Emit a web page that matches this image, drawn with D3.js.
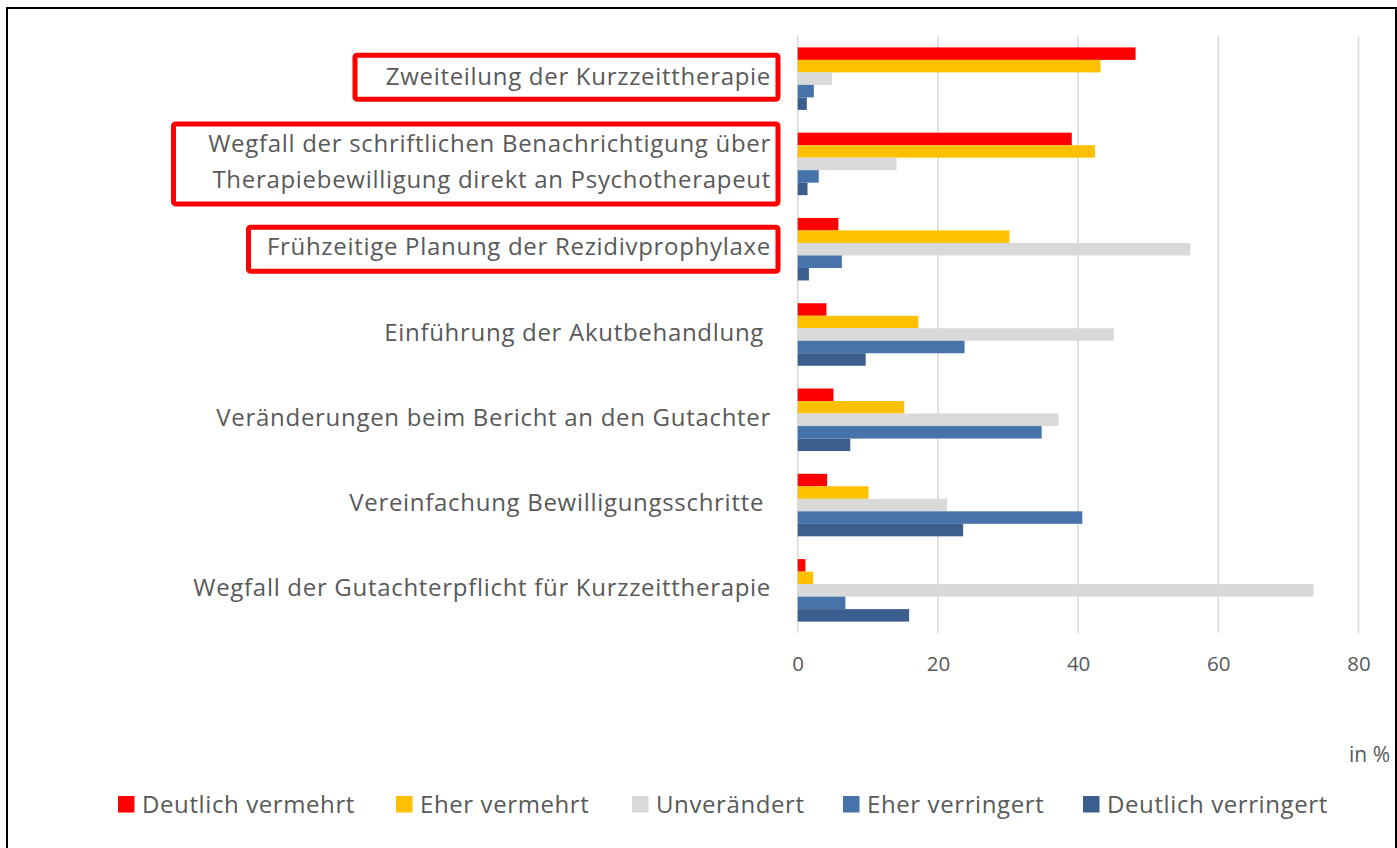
<!DOCTYPE html>
<html>
<head>
<meta charset="utf-8">
<script src="https://cdn.jsdelivr.net/npm/d3@7"></script>
<style>
  html, body { margin: 0; padding: 0; background: #fff; }
  svg { display: block; font-family: "Open Sans", sans-serif; }
  .cat text { white-space: pre; }
</style>
</head>
<body>
<svg id="chart" width="1397" height="848"></svg>
<script>
// categories, top to bottom (trailing blanks as in the source labels)
var categories = [
  "Zweiteilung der Kurzzeittherapie",
  "Wegfall der schriftlichen Benachrichtigung über\nTherapiebewilligung direkt an Psychotherapeut",
  "Frühzeitige Planung der Rezidivprophylaxe",
  "Einführung der Akutbehandlung ",
  "Veränderungen beim Bericht an den Gutachter",
  "Vereinfachung Bewilligungsschritte ",
  "Wegfall der Gutachterpflicht für Kurzzeittherapie"
];
var seriesNames = ["Deutlich vermehrt", "Eher vermehrt", "Unverändert", "Eher verringert", "Deutlich verringert"];
var seriesColors = ["#ff0000", "#ffc000", "#d9d9d9", "#4673a9", "#3b5e8e"];

// values in %, one array per series, in category order
var deutlichVermehrt   = [48.2, 39.1,  5.8,  4.1,  5.1,  4.2,  1.1];
var eherVermehrt       = [43.2, 42.4, 30.2, 17.2, 15.2, 10.1,  2.2];
var unveraendert       = [ 4.9, 14.1, 56.0, 45.1, 37.2, 21.3, 73.6];
var eherVerringert     = [ 2.3,  3.0,  6.3, 23.8, 34.8, 40.6,  6.8];
var deutlichVerringert = [ 1.3,  1.4,  1.6,  9.7,  7.5, 23.6, 15.9];
var seriesValues = [deutlichVermehrt, eherVermehrt, unveraendert, eherVerringert, deutlichVerringert];

var xTicks = [0, 20, 40, 60, 80];
var unitLabel = "in %";
// categories that get a red frame
var highlighted = [0, 1, 2];

var svg = d3.select("#chart");
var textColor = "#595959";

// outer frame
svg.append("rect")
  .attr("x", 7).attr("y", 8)
  .attr("width", 1389).attr("height", 850)
  .attr("fill", "none").attr("stroke", "#000").attr("stroke-width", 2);

var x = d3.scaleLinear().domain([0, 80]).range([797.7, 1358.5]);
var y = d3.scaleBand().domain(d3.range(categories.length)).range([36, 633]).padding(0);
var gap = y.bandwidth() * 0.267;
var yInner = d3.scaleBand().domain(d3.range(seriesNames.length))
  .range([gap / 2, y.bandwidth() - gap / 2]).padding(0);

// gridlines
svg.append("g")
  .selectAll("line")
  .data(xTicks)
  .join("line")
  .attr("x1", d => x(d)).attr("x2", d => x(d))
  .attr("y1", 36).attr("y2", 633)
  .attr("stroke", "#d9d9d9").attr("stroke-width", 1.5);

// bars
var rows = categories.map((c, i) => seriesValues.map((vals, s) => ({cat: i, s: s, v: vals[i]})));
svg.append("g")
  .selectAll("g")
  .data(rows)
  .join("g")
  .attr("transform", (d, i) => "translate(0," + y(i) + ")")
  .selectAll("rect")
  .data(d => d)
  .join("rect")
  .attr("x", x(0))
  .attr("y", d => yInner(d.s))
  .attr("width", d => x(d.v) - x(0))
  .attr("height", yInner.bandwidth())
  .attr("fill", d => seriesColors[d.s]);

// x axis labels
var xAxis = d3.axisBottom(x).tickValues(xTicks).tickSize(0).tickPadding(0);
var ax = svg.append("g").attr("transform", "translate(0,671)").call(xAxis);
ax.select(".domain").remove();
ax.selectAll("text")
  .attr("dy", 0)
  .attr("font-family", "'Open Sans', sans-serif")
  .attr("font-size", 20.5)
  .attr("fill", textColor);

svg.append("text")
  .attr("x", 1390).attr("y", 762)
  .attr("text-anchor", "end")
  .attr("font-size", 21)
  .attr("fill", textColor)
  .text(unitLabel);

// category labels
var lineH = 36;
var labels = svg.append("g")
  .attr("class", "cat")
  .selectAll("text")
  .data(categories)
  .join("text")
  .attr("text-anchor", "end")
  .attr("font-size", 24)
  .attr("letter-spacing", 0.7)
  .attr("fill", textColor)
  .attr("transform", (d, i) => "translate(771," + (y(i) + y.bandwidth() / 2) + ")");
labels.each(function(d) {
  var lines = d.split("\n");
  var t = d3.select(this);
  lines.forEach((ln, k) => {
    t.append("tspan")
      .attr("x", 0)
      .attr("y", (k - (lines.length - 1) / 2) * lineH)
      .attr("dy", "0.25em")
      .text(ln);
  });
});

// red frames round the highlighted labels
var frameLeft = {0: 355, 1: 173.5, 2: 248.5};
var frameH = d => categories[d].indexOf("\n") >= 0 ? 80 : 44;
svg.append("g")
  .selectAll("rect")
  .data(highlighted)
  .join("rect")
  .attr("x", d => frameLeft[d])
  .attr("y", d => y(d) + y.bandwidth() / 2 - frameH(d) / 2 - (d === 0 ? 1.5 : 0))
  .attr("width", d => 778 - frameLeft[d])
  .attr("height", frameH)
  .attr("rx", 2)
  .attr("fill", "none")
  .attr("stroke", "#ff0000")
  .attr("stroke-width", 5);

// legend
var legendX = [118, 396, 632, 843, 1083];
var leg = svg.append("g")
  .selectAll("g")
  .data(seriesNames)
  .join("g")
  .attr("transform", (d, i) => "translate(" + legendX[i] + ",796)");
leg.append("rect")
  .attr("width", 16.5).attr("height", 16.5)
  .attr("fill", (d, i) => seriesColors[i]);
leg.append("text")
  .attr("x", 24).attr("y", 16.7)
  .attr("font-size", 24)
  .attr("letter-spacing", 0.6)
  .attr("fill", textColor)
  .text(d => d);
</script>
</body>
</html>
